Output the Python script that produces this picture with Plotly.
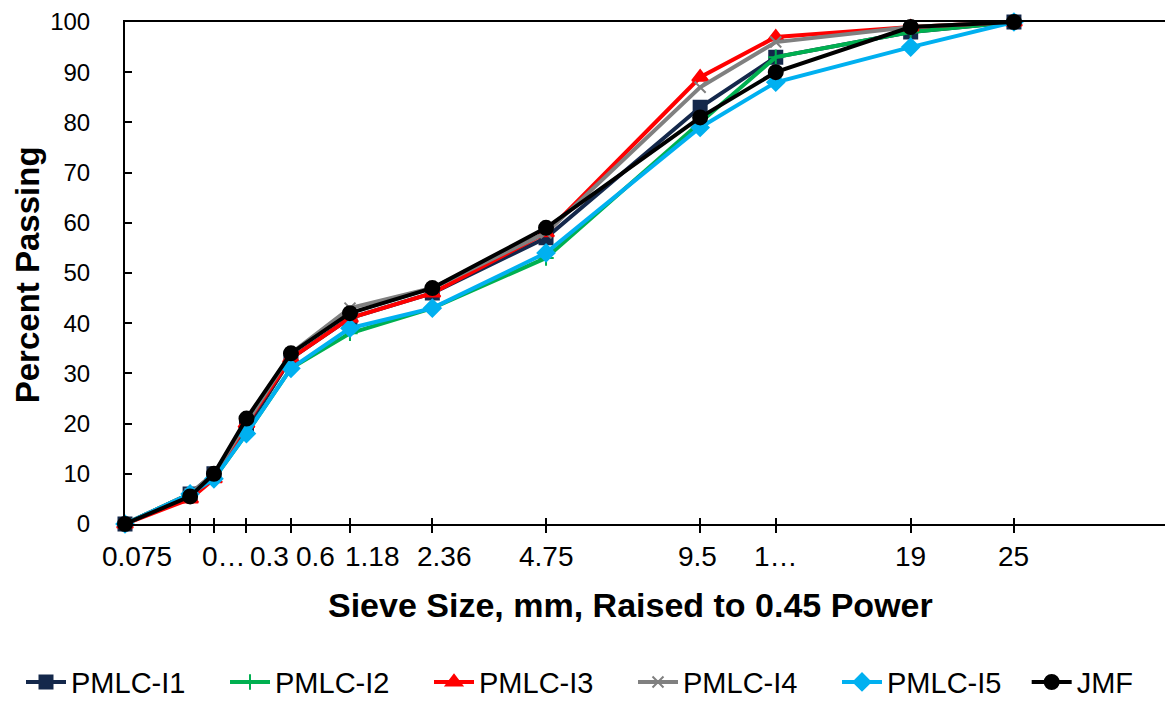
import plotly.graph_objects as go

# Sieve openings (mm) and percent passing for each blend
sieve_mm = [0, 0.075, 0.15, 0.3, 0.6, 1.18, 2.36, 4.75, 9.5, 12.5, 19, 25]
pmlc_i1 = [0, 6, 10, 19, 33, 41, 46, 57, 83, 93, 98, 100]
pmlc_i2 = [0, 6, 9, 18, 31, 38, 43, 53, 80, 93, 98, 100]
pmlc_i3 = [0, 5, 9, 20, 33, 41, 46, 58, 89, 97, 99, 100]
pmlc_i4 = [0, 6, 10, 20, 34, 43, 47, 58, 87, 96, 99, 100]
pmlc_i5 = [0, 6, 9, 18, 31, 39, 43, 54, 79, 88, 95, 100]
jmf = [0, 5.5, 10, 21, 34, 42, 47, 59, 81, 90, 99, 100]

# Axis labels for the sieves (0.075 mm upward)
tick_sieves = [0.075, 0.15, 0.3, 0.6, 1.18, 2.36, 4.75, 9.5, 12.5, 19, 25]
tick_text = ["0.075", "0…", "0.3", "0.6", "1.18", "2.36", "4.75", "9.5", "1…", "19", "25"]
tick_label_shift = [-53, 10, 23, 25, 23, 12, 0, -3, 0, 0, 0]

POWER = 0.45
x_pow = [s ** POWER for s in sieve_mm]
tick_pow = [s ** POWER for s in tick_sieves]

FONT = "Liberation Sans, Arial, sans-serif"

series = [
    ("PMLC-I1", pmlc_i1, "#14284B", "square", 13, "legend"),
    ("PMLC-I2", pmlc_i2, "#00B050", "cross-thin", 11, "legend"),
    ("PMLC-I3", pmlc_i3, "#FF0000", "triangle-up", 14, "legend"),
    ("PMLC-I4", pmlc_i4, "#808080", "x-thin", 11, "legend"),
    ("PMLC-I5", pmlc_i5, "#00B0F0", "diamond", 13, "legend"),
    ("JMF", jmf, "#000000", "circle", 14, "legend2"),
]

fig = go.Figure()
for name, vals, color, sym, size, leg in series:
    fig.add_trace(go.Scatter(
        x=x_pow, y=vals, name=name, mode="lines+markers",
        line=dict(color=color, width=4),
        marker=dict(symbol=sym, size=size, color=color,
                    line=dict(color=color, width=2)),
        cliponaxis=False, legend=leg,
    ))

# Inner half of the crossing tick marks on the x axis
fig.add_trace(go.Scatter(x=[None], y=[None], xaxis="x2", showlegend=False))

annotations = []
for xv, txt, dx in zip(tick_pow, tick_text, tick_label_shift):
    annotations.append(dict(
        x=xv, y=0, xref="x", yref="paper", text=txt, showarrow=False,
        xanchor="center", yanchor="middle", xshift=dx, yshift=-32,
        font=dict(family=FONT, size=28, color="#000000"),
    ))
annotations.append(dict(
    x=0.486, y=-0.161, xref="paper", yref="paper",
    text="<b>Sieve Size, mm, Raised to 0.45 Power</b>", showarrow=False,
    xanchor="center", yanchor="middle",
    font=dict(family=FONT, size=34, color="#000000"),
))
annotations.append(dict(
    x=-0.094, y=0.496, xref="paper", yref="paper",
    text="<b>Percent Passing</b>", showarrow=False, textangle=-90,
    xanchor="center", yanchor="middle",
    font=dict(family=FONT, size=33, color="#000000"),
))

x_range = [0, 4.98]
legend_font = dict(family=FONT, size=29, color="#000000")

fig.update_layout(
    width=1165, height=701,
    margin=dict(l=125, r=0, t=22, b=177, autoexpand=False),
    paper_bgcolor="white", plot_bgcolor="white",
    font=dict(family=FONT, size=24, color="#000000"),
    showlegend=True,
    legend=dict(
        orientation="h", x=-0.1, y=-0.315, xanchor="left", yanchor="middle",
        font=legend_font, entrywidth=149, entrywidthmode="pixels",
        itemwidth=40, bgcolor="rgba(0,0,0,0)",
    ),
    legend2=dict(
        orientation="h", x=0.867, y=-0.315, xanchor="left", yanchor="middle",
        font=legend_font, itemwidth=40, bgcolor="rgba(0,0,0,0)",
    ),
    xaxis=dict(
        range=x_range, showgrid=False, zeroline=False,
        showline=True, linecolor="#000000", linewidth=2, mirror=True,
        tickvals=tick_pow, ticks="outside", ticklen=7, tickwidth=2,
        tickcolor="#000000", showticklabels=False,
    ),
    xaxis2=dict(
        range=x_range, overlaying="x", anchor="y", side="bottom",
        showgrid=False, zeroline=False, showline=False,
        tickvals=tick_pow, ticks="inside", ticklen=6, tickwidth=2,
        tickcolor="#000000", showticklabels=False,
    ),
    yaxis=dict(
        range=[0, 100], showgrid=False, zeroline=False,
        showline=True, linecolor="#000000", linewidth=2,
        tickvals=list(range(0, 101, 10)), ticks="inside", ticklen=7,
        tickwidth=2, tickcolor="#000000", ticklabelstandoff=28,
        tickfont=dict(family=FONT, size=24, color="#000000"),
    ),
    annotations=annotations,
)

fig.write_html("out.html")
